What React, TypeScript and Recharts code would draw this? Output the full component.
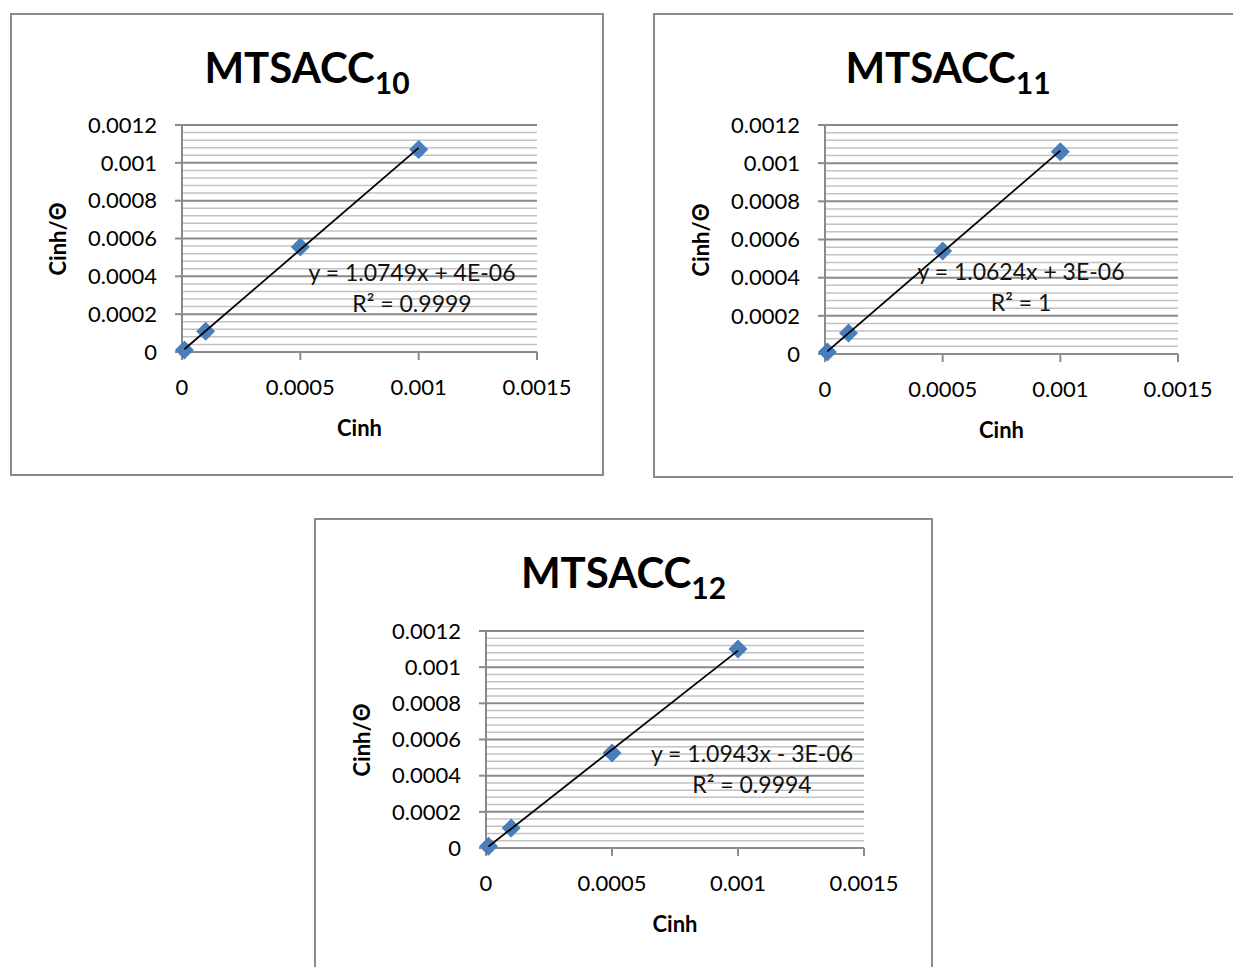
import React from 'react';
import { ScatterChart, Scatter, XAxis, YAxis, CartesianGrid, ReferenceLine } from 'recharts';

// axis ticks shared by the three panels
const xTicks = [0, 0.0005, 0.001, 0.0015];
const yTicks = [0, 0.0002, 0.0004, 0.0006, 0.0008, 0.001, 0.0012];
// minor gridlines: four between each pair of major ticks
const yMinor = yTicks.slice(0, -1).flatMap((v) => [1, 2, 3, 4].map((k) => v + k * 0.00004));

// measured points
const cinh = [0.00001, 0.0001, 0.0005, 0.001];
const ratio10 = [0.00001, 0.00011, 0.000555, 0.00107];
const ratio11 = [0.00001, 0.00011, 0.00054, 0.00106];
const ratio12 = [0.00001, 0.00011, 0.000525, 0.0011];

// linear trendline ends (from the fitted equations)
const trendX = [0.00001, 0.001];
const trend10 = [0.0000147, 0.0010789];
const trend11 = [0.0000136, 0.0010654];
const trend12 = [0.0000079, 0.0010913];

const FONT = 'Lato, "Open Sans", sans-serif';
const BLUE = '#4A7EBB';
const GRID = '#8a8a8a';
const BORDER = 2;

const toPoints = (xs: number[], ys: number[]) => xs.map((x, i) => ({ x, y: ys[i] }));

const Diamond = (props: any) => {
    const { cx, cy } = props;
    const r = 9.5;
    return <polygon points={`${cx},${cy - r} ${cx + r},${cy} ${cx},${cy + r} ${cx - r},${cy}`} fill={BLUE} />;
};

const NoDot = () => <g />;

interface PanelProps {
    left: number;
    top: number;
    width: number;
    height: number;
    plot: { left: number; top: number; right: number; bottom: number }; // page coords
    sub: string;
    ratio: number[];
    trend: number[];
    eq: string;
    r2: string;
    eqX: number;
    eqY: number;
}

function Panel({ left, top, width, height, plot, sub, ratio, trend, eq, r2, eqX, eqY }: PanelProps) {
    const ox = left + BORDER;
    const oy = top + BORDER;
    const w = width - 2 * BORDER;
    const h = height - 2 * BORDER;
    const pl = plot.left - ox;
    const pt = plot.top - oy;
    const pr = plot.right - ox;
    const pb = plot.bottom - oy;
    const midX = (pl + pr) / 2;
    const midY = (pt + pb) / 2;

    return (
        <div
            style={{
                position: 'absolute',
                left,
                top,
                width: w,
                height: h,
                border: `${BORDER}px solid ${GRID}`,
                background: '#fff',
                fontFamily: FONT,
            }}
        >
            <div
                style={{
                    position: 'absolute',
                    left: 0,
                    width: w,
                    top: 30,
                    textAlign: 'center',
                    fontWeight: 700,
                    fontSize: 42,
                    lineHeight: '44px',
                    color: '#000',
                }}
            >
                MTSACC<sub style={{ fontSize: 30, verticalAlign: '-0.35em', lineHeight: 0 }}>{sub}</sub>
            </div>

            <ScatterChart
                width={w}
                height={h}
                margin={{ top: pt, right: w - pr, bottom: 0, left: 0 }}
                style={{ position: 'absolute', left: 0, top: 0 }}
            >
                {yMinor.map((v, i) => (
                    <ReferenceLine key={i} y={v} stroke="#c2c2c2" strokeWidth={1.5} />
                ))}
                <CartesianGrid vertical={false} stroke={GRID} strokeWidth={2} />
                <XAxis
                    type="number"
                    dataKey="x"
                    domain={[0, 0.0015]}
                    ticks={xTicks}
                    height={h - pb}
                    axisLine={{ stroke: GRID, strokeWidth: 2 }}
                    tickLine={{ stroke: GRID, strokeWidth: 2 }}
                    tickSize={8}
                    tickMargin={19}
                    tick={{ fill: '#000', fontSize: 22, fontFamily: FONT }}
                />
                <YAxis
                    type="number"
                    dataKey="y"
                    domain={[0, 0.0012]}
                    ticks={yTicks}
                    width={pl}
                    axisLine={{ stroke: GRID, strokeWidth: 2 }}
                    tickLine={{ stroke: GRID, strokeWidth: 2 }}
                    tickSize={7}
                    tickMargin={18}
                    tick={{ fill: '#000', fontSize: 22, fontFamily: FONT }}
                />
                <Scatter data={toPoints(cinh, ratio)} shape={<Diamond />} isAnimationActive={false} />
                <Scatter
                    data={toPoints(trendX, trend)}
                    line={{ stroke: '#000', strokeWidth: 1.8 }}
                    shape={<NoDot />}
                    isAnimationActive={false}
                />
            </ScatterChart>

            <div
                style={{
                    position: 'absolute',
                    left: midX - 100,
                    width: 200,
                    top: pb + 62,
                    textAlign: 'center',
                    fontWeight: 700,
                    fontSize: 22,
                    lineHeight: '28px',
                }}
            >
                Cinh
            </div>
            <div
                style={{
                    position: 'absolute',
                    left: 50 - BORDER - 2 - 100,
                    top: midY - 14,
                    width: 200,
                    textAlign: 'center',
                    fontWeight: 700,
                    fontSize: 22,
                    lineHeight: '28px',
                    transform: 'rotate(-90deg)',
                    transformOrigin: '100px 14px',
                }}
            >
                Cinh/Θ
            </div>
            <div
                style={{
                    position: 'absolute',
                    left: eqX - ox - 150,
                    width: 300,
                    top: eqY - oy - 15,
                    textAlign: 'center',
                    fontSize: 23,
                    lineHeight: '31px',
                    color: '#111',
                }}
            >
                {eq}
                <br />
                R² = {r2}
            </div>
        </div>
    );
}

export default function App() {
    return (
        <div style={{ position: 'absolute', left: 0, top: 0, width: 1233, height: 967, overflow: 'hidden', background: '#fff' }}>
            <Panel
                left={10}
                top={13}
                width={594}
                height={463}
                plot={{ left: 182, top: 125, right: 537, bottom: 352 }}
                sub="10"
                ratio={ratio10}
                trend={trend10}
                eq="y = 1.0749x + 4E-06"
                r2="0.9999"
                eqX={412}
                eqY={272}
            />
            <Panel
                left={653}
                top={13}
                width={590}
                height={465}
                plot={{ left: 825, top: 125, right: 1178, bottom: 354 }}
                sub="11"
                ratio={ratio11}
                trend={trend11}
                eq="y = 1.0624x + 3E-06"
                r2="1"
                eqX={1021}
                eqY={271}
            />
            <Panel
                left={314}
                top={518}
                width={619}
                height={470}
                plot={{ left: 486, top: 631, right: 864, bottom: 848 }}
                sub="12"
                ratio={ratio12}
                trend={trend12}
                eq="y = 1.0943x - 3E-06"
                r2="0.9994"
                eqX={752}
                eqY={753}
            />
        </div>
    );
}
